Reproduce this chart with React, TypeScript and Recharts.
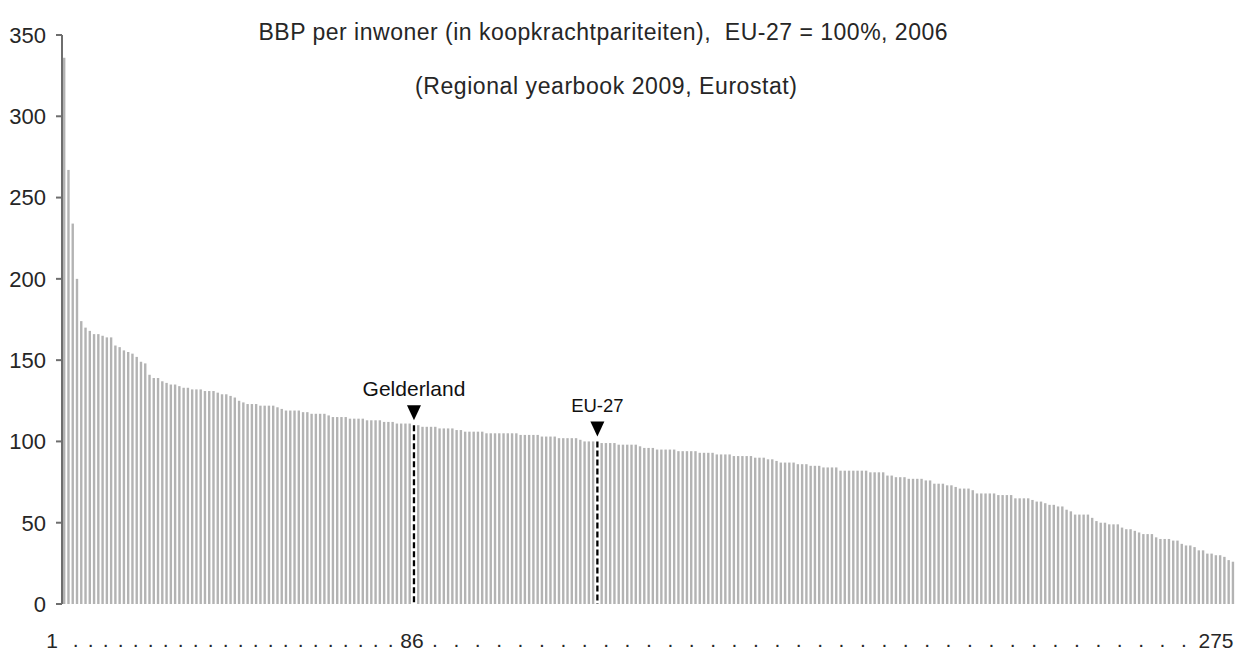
import React from 'react';
import { BarChart, Bar, XAxis, YAxis } from 'recharts';

// BBP per inwoner (KKP), EU-27 = 100, 2006 — 275 NUTS-2 regions, sorted high → low
const VALUES: number[] = [
  336, 267, 234, 200, 174, 170, 168, 166, 166, 165, 164, 164, 159, 158, 156, 155, 154, 152, 149, 148, 141, 139, 139, 137, 136,
  135, 135, 134, 133, 133, 132, 132, 132, 131, 131, 131, 130, 129, 129, 128, 127, 125, 124, 123, 123, 123, 122, 122, 122, 122,
  121, 120, 119, 119, 119, 119, 118, 118, 117, 117, 117, 117, 116, 115, 115, 115, 115, 114, 114, 114, 114, 113, 113, 113, 113,
  112, 112, 112, 111, 111, 111, 111, 110, 110, 109, 109, 109, 109, 108, 108, 108, 108, 107, 107, 106, 106, 106, 106, 106, 105,
  105, 105, 105, 105, 105, 105, 105, 104, 104, 104, 104, 104, 103, 103, 103, 103, 102, 102, 102, 102, 102, 101, 100, 100, 100,
  100, 99, 99, 99, 99, 98, 98, 98, 98, 98, 97, 96, 96, 96, 95, 95, 95, 95, 95, 94, 94, 94, 94, 94, 93,
  93, 93, 93, 92, 92, 92, 92, 91, 91, 91, 91, 91, 90, 90, 90, 89, 89, 88, 87, 87, 87, 87, 86, 86, 86,
  85, 85, 85, 84, 84, 84, 84, 82, 82, 82, 82, 82, 82, 82, 81, 81, 81, 81, 79, 79, 78, 78, 78, 77, 77,
  77, 77, 76, 76, 74, 74, 74, 73, 73, 72, 71, 71, 71, 70, 68, 68, 68, 68, 68, 67, 67, 67, 67, 65, 65,
  65, 65, 64, 63, 63, 62, 61, 61, 60, 60, 58, 57, 55, 55, 55, 55, 53, 51, 50, 50, 49, 49, 49, 47, 46,
  46, 45, 44, 43, 43, 43, 41, 40, 40, 40, 39, 39, 37, 36, 36, 35, 33, 33, 31, 31, 30, 30, 29, 27, 26,
];

// highlighted regions (rank in the sorted list)
const MARKERS: { rank: number; label: string; fontSize: number }[] = [
  { rank: 83, label: 'Gelderland', fontSize: 21 },
  { rank: 126, label: 'EU-27', fontSize: 18.5 },
];

const Y_TICKS = [0, 50, 100, 150, 200, 250, 300, 350];

const TITLE = 'BBP per inwoner (in koopkrachtpariteiten),  EU-27 = 100%, 2006';
const SUBTITLE = '(Regional yearbook 2009, Eurostat)';

const BOTTOM_LABELS = [
  { text: '1', x: 52 },
  { text: '86', x: 412 },
  { text: '275', x: 1216 },
];

const W = 1235;
const H = 655;
const FONT = '"Liberation Sans", Arial, Helvetica, sans-serif';
const BAR_FILL = '#b3b3b3';
const AXIS = '#6e6e6e';
const TEXT = '#262626';

const data = VALUES.map((v, i) => {
  const m = MARKERS.find((mk) => mk.rank === i + 1);
  return { rank: i + 1, value: v, marker: m?.label, markerSize: m?.fontSize };
});

function BarShape(props: any) {
  const { x, y, width, height, payload } = props;
  if (!payload?.marker) {
    return <rect x={x} y={y} width={width} height={height} fill={BAR_FILL} />;
  }
  const cx = x + width / 2;
  return (
    <g>
      <line x1={cx} x2={cx} y1={y} y2={y + height} stroke="#000" strokeWidth={2.3} strokeDasharray="6 3" />
      <path d={`M${cx - 7},${y - 20} L${cx + 7},${y - 20} L${cx},${y - 5} Z`} fill="#000" />
      <text x={cx} y={y - 29} textAnchor="middle" fontSize={payload.markerSize} fill="#111" fontFamily={FONT}>
        {payload.marker}
      </text>
    </g>
  );
}

// dotted leader positions between the bottom labels
const leftDots = Array.from({ length: 22 }, (_, i) => 72.7 + i * 15);
const rightDots = Array.from({ length: 36 }, (_, i) => 432 + i * 21.4);

export default function App() {
  return (
    <div style={{ position: 'absolute', left: 0, top: 0, width: W, height: H, background: '#fff', fontFamily: FONT }}>
      <BarChart
        width={W}
        height={H}
        data={data}
        margin={{ top: 35, right: 0, left: 0, bottom: 51 }}
        barSize={2.4}
      >
        <XAxis
          dataKey="rank"
          type="category"
          tick={false}
          tickLine={false}
          height={0}
          axisLine={{ stroke: AXIS, strokeWidth: 2 }}
        />
        <YAxis
          type="number"
          domain={[0, 350]}
          ticks={Y_TICKS}
          width={62}
          tickSize={6}
          tickMargin={10}
          interval={0}
          axisLine={{ stroke: AXIS, strokeWidth: 2 }}
          tickLine={{ stroke: AXIS, strokeWidth: 2 }}
          tick={{ fontSize: 22, fill: TEXT, fontFamily: FONT }}
        />
        <Bar dataKey="value" isAnimationActive={false} shape={BarShape} />
      </BarChart>

      <svg
        width={W}
        height={H}
        style={{ position: 'absolute', left: 0, top: 0, pointerEvents: 'none' }}
        fontFamily={FONT}
      >
        <text x={603} y={40} textAnchor="middle" fontSize={23} fill={TEXT} textLength={689} lengthAdjust="spacing" style={{ whiteSpace: 'pre' }}>
          {TITLE}
        </text>
        <text x={606} y={94} textAnchor="middle" fontSize={23} fill={TEXT} textLength={382} lengthAdjust="spacing">
          {SUBTITLE}
        </text>
        {BOTTOM_LABELS.map((l) => (
          <text key={l.text} x={l.x} y={648} textAnchor="middle" fontSize={21} fill={TEXT}>
            {l.text}
          </text>
        ))}
        <text x={leftDots.join(' ')} y={647} fontSize={21} fill={TEXT}>
          {'.'.repeat(leftDots.length)}
        </text>
        <text x={rightDots.join(' ')} y={647} fontSize={21} fill={TEXT}>
          {'.'.repeat(rightDots.length)}
        </text>
      </svg>
    </div>
  );
}
